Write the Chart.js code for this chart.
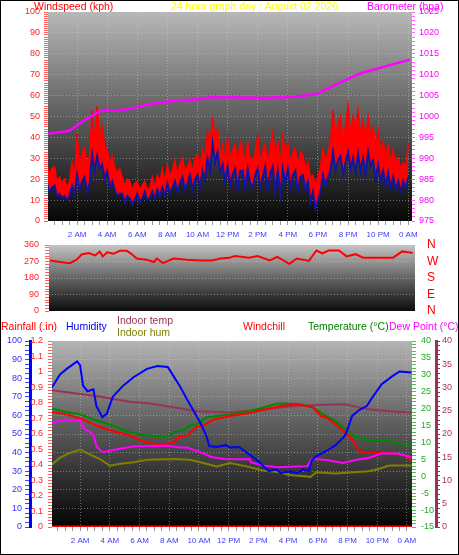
<!DOCTYPE html>
<html>
<head>
<meta charset="utf-8">
<script src="https://cdn.jsdelivr.net/npm/chart.js@4.4.0/dist/chart.umd.min.js"></script>
<style>
html, body { margin: 0; padding: 0; background: #fff; }
#frame { position: relative; width: 459px; height: 555px; overflow: hidden; font-family: "Liberation Sans", Arial, sans-serif; }
#frame canvas { position: absolute; left: 0; }
.lbl { position: absolute; font-size: 10.5px; line-height: 12px; white-space: nowrap; z-index: 2; }
#edge { position: absolute; left: 0; top: 0; width: 459px; height: 555px; box-sizing: border-box; border: 1px solid #000; z-index: 3; }
</style>
</head>
<body>
<div id="frame">
  <canvas id="wind" width="459" height="242" style="top:0"></canvas>
  <canvas id="dir" width="459" height="80" style="top:236px"></canvas>
  <canvas id="temps" width="459" height="240" style="top:315px"></canvas>

  <div class="lbl" style="left:34px;top:0;color:#ff0000">Windspeed (kph)</div>
  <div class="lbl" style="left:171px;top:0;color:#ffff00">24 hour graph day : August 02 2026</div>
  <div class="lbl" style="left:367px;top:0;color:#ff00ff">Barometer (hpa)</div>

  <div class="lbl" style="left:1px;top:320px;color:#ff0000">Rainfall (.in)</div>
  <div class="lbl" style="left:66px;top:320px;color:#0000ff">Humidity</div>
  <div class="lbl" style="left:117px;top:314px;color:#993355">Indoor temp</div>
  <div class="lbl" style="left:117px;top:326px;color:#808000">Indoor hum</div>
  <div class="lbl" style="left:243px;top:320px;color:#ff0000">Windchill</div>
  <div class="lbl" style="left:308px;top:320px;color:#008000">Temperature (°C)</div>
  <div class="lbl" style="left:389px;top:320px;color:#ff00ff">Dew Point (°C)</div>
  <div id="edge"></div>
</div>

<script>
// time axis labels
const hourTicks = [2, 4, 6, 8, 10, 12, 14, 16, 18, 20, 22, 24];
const hourLabels = ['2 AM', '4 AM', '6 AM', '8 AM', '10 AM', '12 PM', '2 PM', '4 PM', '6 PM', '8 PM', '10 PM', '0 AM'];

// wind, one reading every 10 minutes from 0:00 to 24:00
const gust = [
  27, 22, 25, 26, 19, 21,
  18, 20, 16, 19, 28, 22,
  42, 26, 33, 35, 27, 31,
  53, 38, 55, 41, 45, 36,
  34, 28, 31, 26, 23, 25,
  21, 17, 20, 19, 15, 18,
  19, 15, 17, 19, 15, 16,
  21, 16, 22, 19, 25, 19,
  27, 22, 24, 29, 22, 27,
  30, 24, 26, 29, 23, 30,
  32, 26, 34, 30, 43, 36,
  50, 39, 44, 31, 36, 29,
  40, 30, 34, 37, 27, 38,
  35, 27, 38, 30, 29, 33,
  41, 28, 33, 37, 27, 35,
  42, 31, 38, 27, 40, 33,
  37, 28, 33, 35, 26, 33,
  32, 25, 28, 21, 22, 17,
  21, 26, 34, 29, 33, 38,
  53, 40, 47, 50, 38, 46,
  55, 42, 50, 44, 53, 41,
  48, 38, 50, 41, 45, 35,
  43, 33, 38, 31, 36, 28,
  34, 27, 30, 25, 28, 25,
  37
];
const windAvg = [
  18, 14, 16, 17, 12, 13,
  11, 12, 10, 12, 17, 13,
  22, 15, 19, 21, 14, 18,
  32, 24, 31, 25, 27, 20,
  24, 16, 19, 15, 12, 13,
  13, 9, 12, 11, 8, 10,
  13, 9, 11, 14, 10, 11,
  14, 11, 15, 12, 16, 12,
  18, 13, 16, 19, 14, 18,
  21, 15, 18, 22, 15, 20,
  22, 16, 24, 20, 30, 24,
  37, 28, 33, 23, 27, 19,
  26, 17, 22, 25, 15, 24,
  24, 15, 25, 18, 16, 22,
  25, 16, 21, 26, 15, 23,
  26, 14, 24, 13, 25, 18,
  25, 16, 22, 24, 14, 21,
  22, 15, 19, 9, 14, 6,
  10, 14, 22, 17, 21, 24,
  33, 24, 29, 31, 22, 28,
  33, 25, 30, 23, 32, 24,
  30, 22, 33, 26, 29, 20,
  27, 19, 24, 17, 23, 16,
  21, 15, 19, 14, 19, 16,
  21
];

const baroHours = [0.1, 1.2, 1.5, 2.2, 2.9, 3.5, 4.0, 4.6, 5.7, 6.6, 8.0, 10.2, 11.0, 12.2, 14.3, 16.5, 17.9, 18.7, 19.9, 20.9, 22.1, 23.2, 24.1];
const baro = [995.9, 996.4, 996.6, 998.4, 1000.0, 1001.2, 1001.6, 1001.3, 1002.0, 1002.8, 1003.6, 1004.2, 1004.6, 1004.6, 1004.4, 1004.7, 1005.4, 1006.8, 1008.8, 1010.4, 1011.6, 1012.7, 1013.6];

const dirHours = [0.2, 0.87, 1.53, 1.97, 2.3, 2.75, 3.2, 3.5, 3.7, 4.0, 4.4, 4.85, 5.3, 5.6, 5.96, 6.6, 7.1, 7.3, 7.7, 8.4, 9.3, 10.2, 11.0, 11.5, 12.1, 12.5, 13.4, 14.0, 14.8, 15.3, 16.1, 16.6, 17.4, 17.9, 18.3, 18.7, 19.4, 19.9, 20.5, 21.0, 23.0, 23.6, 24.3];
const windDir = [276, 267, 261, 280, 308, 316, 303, 324, 297, 320, 312, 328, 328, 312, 286, 280, 267, 286, 261, 286, 280, 276, 276, 286, 290, 300, 290, 300, 276, 295, 257, 286, 273, 330, 314, 330, 330, 298, 310, 291, 291, 325, 317];

const humHours = [0.1, 0.65, 1.1, 1.8, 2.0, 2.2, 2.5, 2.9, 3.1, 3.5, 3.8, 4.2, 4.9, 5.6, 6.5, 7.2, 7.9, 8.3, 8.7, 9.2, 9.6, 10.1, 10.5, 10.7, 11.2, 11.8, 12.1, 12.7, 13.4, 14.0, 14.7, 15.2, 15.5, 16.1, 16.6, 17.0, 17.4, 17.6, 17.9, 18.6, 19.2, 19.8, 20.0, 20.3, 20.8, 21.3, 21.7, 22.3, 23.0, 23.5, 24.3];
const humidity = [75, 82, 85, 89, 87, 76, 73, 74, 65, 59, 61, 70, 76, 80.5, 85, 86.5, 86, 81, 76, 68.6, 63, 56, 49, 43.5, 43, 44, 42.7, 43, 39, 35.3, 30, 31, 29, 30, 29, 31, 30, 36, 38, 41, 44, 48.8, 52.4, 59.6, 63, 65, 70, 76.8, 81, 83.6, 83];

const tempHours = [0.1, 1.1, 2.0, 2.9, 4.0, 5.2, 6.0, 7.2, 8.0, 8.3, 9.0, 9.4, 9.9, 10.5, 11.2, 12.1, 13.4, 13.9, 14.7, 15.3, 15.9, 16.8, 17.6, 18.2, 18.6, 19.2, 19.9, 20.3, 20.6, 21.4, 22.8, 24.1, 24.3];
const temperature = [20, 19, 18.3, 16.8, 15.3, 13.3, 12.3, 11.8, 12, 13, 13.8, 15, 15.5, 17.4, 17.8, 18.3, 19.3, 19.8, 20.8, 21.5, 21.5, 21.3, 20.5, 18.8, 17.8, 16.3, 13.8, 12.5, 11.6, 10.9, 10.4, 9.1, 8.9];

const chillHours = [0.1, 1.1, 2.2, 3.2, 4.2, 5.2, 6.0, 6.5, 7.4, 8.3, 8.7, 9.2, 9.9, 10.1, 11.0, 12.1, 13.5, 15.5, 16.6, 17.7, 18.2, 18.6, 19.2, 19.9, 20.3, 20.8, 21.4, 22.3, 23.0, 23.9, 24.3];
const windchill = [19, 18.3, 16.8, 14.8, 13.3, 12.3, 10.8, 10, 9.4, 10, 11.8, 12, 14.8, 14.5, 16.8, 17.8, 18.8, 20.8, 21.3, 20.3, 17.8, 17.3, 15.3, 12.8, 10.9, 7.4, 6.9, 6.9, 6.9, 6.1, 4.4];

const dewHours = [0.1, 0.9, 1.8, 2.0, 2.2, 2.7, 2.9, 3.1, 3.5, 4.4, 5.6, 7.9, 8.7, 9.2, 9.9, 10.5, 10.8, 11.7, 12.8, 13.4, 13.5, 14.3, 15.3, 16.6, 17.3, 17.6, 18.6, 19.7, 20.6, 21.4, 22.3, 23.3, 24.1, 24.3];
const dewPoint = [15.8, 16.8, 16.5, 16.7, 14.3, 13, 12.3, 8.9, 7.1, 7.9, 8.9, 9, 8.5, 8.5, 7.4, 6.4, 5.7, 5.1, 5, 5.1, 4.1, 3.2, 2.7, 2.9, 3, 5.2, 4.8, 3.9, 4.9, 5.4, 6.7, 6.7, 5.9, 5.5];

const inTempHours = [0.1, 3.4, 5.4, 6.6, 9.9, 12.1, 14.3, 16.5, 18.5, 19.8, 21.4, 22.8, 24.3];
const indoorTemp = [29.4, 28, 26.9, 26.6, 24.9, 24.6, 25.3, 26, 26.3, 26.4, 25.3, 24.9, 24.6];

const inHumHours = [0.1, 0.6, 1.3, 2.0, 2.4, 3.4, 4.0, 4.7, 5.6, 6.5, 8.3, 9.4, 10.1, 11.2, 12.1, 13.2, 14.3, 15.3, 16.1, 17.3, 17.5, 17.9, 19.2, 21.4, 22.1, 22.8, 24.3];
const indoorHum = [33.5, 37, 39.8, 41.6, 40, 36.2, 33, 34, 34.8, 36.2, 36.5, 36.2, 34.8, 32.6, 34.4, 32.6, 30.4, 29.5, 28, 27.2, 26.9, 29.4, 28.8, 30, 31.2, 33, 33];

const rainHours = [0.1, 24.3];
const rainfall = [0, 0];

Chart.defaults.font.family = '"Liberation Sans", Arial, sans-serif';
Chart.defaults.animation = false;

const pts = (xs, ys) => xs.map((x, i) => ({ x: x, y: ys[i] }));
const every10min = vals => vals.map((v, i) => ({ x: i / 6, y: v }));
const tickList = (lo, hi, step) => {
  const out = [];
  for (let v = lo; v <= hi + 1e-9; v += step) out.push(+v.toFixed(3));
  return out;
};
const near = (v, step) => Math.abs(v / step - Math.round(v / step)) < 1e-6;
const halfHours = tickList(0.5, 24, 0.5);
const gridCol = 'rgba(210,210,210,0.45)';

const plotBg = {
  id: 'plotBg',
  beforeDraw(chart, args, o) {
    const { ctx, chartArea: a } = chart;
    const g = ctx.createLinearGradient(0, a.top, 0, a.bottom);
    g.addColorStop(0, o.top);
    g.addColorStop(0.45, o.mid);
    g.addColorStop(1, o.bottom);
    ctx.save();
    ctx.fillStyle = g;
    ctx.fillRect(a.left, a.top, a.width, a.height);
    ctx.restore();
  }
};

function timeAxis(min, max, height, pad) {
  return {
    type: 'linear', min: min, max: max,
    afterBuildTicks: s => { s.ticks = halfHours.map(v => ({ value: v })); },
    ticks: {
      autoSkip: false, maxRotation: 0, color: '#3c3cff', font: { size: 8 }, padding: pad,
      callback: v => { const i = hourTicks.indexOf(v); return i >= 0 ? hourLabels[i] : ''; }
    },
    grid: {
      color: c => (c.tick && hourTicks.includes(c.tick.value)) ? gridCol : 'rgba(0,0,0,0)',
      tickColor: '#9a9a9a', tickLength: 4
    },
    border: { display: false, dash: [1, 2] },
    afterFit: s => { s.height = height; s.paddingLeft = 0; s.paddingRight = 0; }
  };
}

function valueAxis(o) {
  return {
    type: 'linear', position: o.pos, min: o.min, max: o.max, weight: o.weight || 0,
    afterBuildTicks: s => { s.ticks = tickList(o.min, o.max, o.minor).map(v => ({ value: v })); },
    ticks: {
      autoSkip: false, color: o.color, font: { size: o.size || 9 }, padding: o.pad,
      callback: v => near(v, o.major) ? (o.names ? o.names[Math.round(v / o.major)] : +v.toFixed(2)) : ''
    },
    grid: {
      drawOnChartArea: !!o.grid,
      drawTicks: o.tick !== 0,
      color: c => (c.tick && near(c.tick.value, o.major) && c.tick.value > o.min && c.tick.value < o.max) ? gridCol : 'rgba(0,0,0,0)',
      tickColor: o.tickColor || o.color, tickLength: o.tick === undefined ? 4 : o.tick
    },
    border: o.line ? { display: true, color: o.line, width: 3, dash: [1, 2] } : { display: false, dash: [1, 2] },
    afterFit: s => { s.width = o.width; s.paddingTop = 0; s.paddingBottom = 0; }
  };
}

// top panel: windspeed and barometer
new Chart(document.getElementById('wind'), {
  type: 'line',
  plugins: [plotBg],
  data: {
    datasets: [
      { label: 'Barometer', data: pts(baroHours, baro), yAxisID: 'yb', borderColor: '#ff00ff', borderWidth: 2.5, pointRadius: 0, order: -1 },
      { label: 'Average', data: every10min(windAvg), yAxisID: 'y', borderColor: '#14149c', borderWidth: 2, pointRadius: 0, order: 0 },
      { label: 'Gust', data: every10min(gust), yAxisID: 'y', borderColor: '#ff0000', backgroundColor: '#ff0000', borderWidth: 1.5, pointRadius: 0, fill: 1, order: 2 }
    ]
  },
  options: {
    responsive: false,
    layout: { padding: { top: 12, left: 0, right: 0, bottom: 0 } },
    plugins: { legend: { display: false }, tooltip: { enabled: false },
      plotBg: { top: '#b8b8b8', mid: '#666666', bottom: '#060606' } },
    scales: {
      x: timeAxis(0.07, 24.25, 21, 5),
      y: valueAxis({ pos: 'left', min: 0, max: 100, minor: 1, major: 10, color: '#ff2020', tickColor: '#ff6060', pad: 4, width: 48, grid: true }),
      yb: valueAxis({ pos: 'right', min: 975, max: 1025, minor: 1, major: 5, color: '#ff00ff', tickColor: '#ff66ff', tick: 3, pad: 4, width: 47 })
    }
  }
});

// middle panel: wind direction
new Chart(document.getElementById('dir'), {
  type: 'line',
  plugins: [plotBg],
  data: {
    datasets: [
      { label: 'Direction', data: pts(dirHours, windDir), borderColor: '#ff0000', borderWidth: 2, pointRadius: 0 }
    ]
  },
  options: {
    responsive: false,
    layout: { padding: { top: 9, left: 0, right: 0, bottom: 5 } },
    plugins: { legend: { display: false }, tooltip: { enabled: false },
      plotBg: { top: '#c4c4c4', mid: '#6e6e6e', bottom: '#0c0c0c' } },
    scales: {
      x: { type: 'linear', min: 0.13, max: 24.45, display: false },
      y: valueAxis({ pos: 'left', min: 0, max: 360, minor: 15, major: 90, color: '#ff2020', tickColor: '#ff6060', pad: 6, width: 49, grid: true }),
      yd: valueAxis({ pos: 'right', min: 0, max: 360, minor: 90, major: 90, names: ['N', 'E', 'S', 'W', 'N'], color: '#ff0000', size: 12, tick: 0, pad: 12, width: 44 })
    }
  }
});

// bottom panel: temperatures, humidity, rainfall
new Chart(document.getElementById('temps'), {
  type: 'line',
  plugins: [plotBg],
  data: {
    datasets: [
      { label: 'Rainfall', data: pts(rainHours, rainfall), yAxisID: 'rain', borderColor: '#ff0000', borderWidth: 3, pointRadius: 0 },
      { label: 'Humidity', data: pts(humHours, humidity), yAxisID: 'hum', borderColor: '#0000ff', borderWidth: 2, pointRadius: 0 },
      { label: 'Dew Point', data: pts(dewHours, dewPoint), yAxisID: 'temp', borderColor: '#ff00ff', borderWidth: 2, pointRadius: 0 },
      { label: 'Windchill', data: pts(chillHours, windchill), yAxisID: 'temp', borderColor: '#ff0000', borderWidth: 2, pointRadius: 0 },
      { label: 'Temperature', data: pts(tempHours, temperature), yAxisID: 'temp', borderColor: '#008800', borderWidth: 2, pointRadius: 0 },
      { label: 'Indoor temp', data: pts(inTempHours, indoorTemp), yAxisID: 'itemp', borderColor: '#993355', borderWidth: 2, pointRadius: 0 },
      { label: 'Indoor hum', data: pts(inHumHours, indoorHum), yAxisID: 'hum', borderColor: '#808000', borderWidth: 2, pointRadius: 0 }
    ]
  },
  options: {
    responsive: false,
    layout: { padding: { top: 26, left: 0, right: 0, bottom: 0 } },
    plugins: { legend: { display: false }, tooltip: { enabled: false },
      plotBg: { top: '#b4b4b4', mid: '#5e5e5e', bottom: '#040404' } },
    scales: {
      x: timeAxis(0.11, 24.34, 28, 5),
      hum: valueAxis({ pos: 'left', weight: 10, min: 0, max: 100, minor: 2.5, major: 10, color: '#3030ff', tickColor: '#4444ff', line: '#0000ff', tick: 5, pad: 3, width: 30, grid: true }),
      rain: valueAxis({ pos: 'left', weight: 0, min: 0, max: 1.2, minor: 0.02, major: 0.1, color: '#ff2020', tickColor: '#ff6060', pad: 5, width: 22 }),
      temp: valueAxis({ pos: 'right', weight: 0, min: -15, max: 40, minor: 1, major: 5, color: '#22aa22', tickColor: '#55bb55', pad: 5, width: 24 }),
      itemp: valueAxis({ pos: 'right', weight: 10, min: 0, max: 40, minor: 1, major: 5, color: '#aa3355', tickColor: '#993355', line: '#993355', pad: 2, width: 23 })
    }
  }
});
</script>
</body>
</html>
